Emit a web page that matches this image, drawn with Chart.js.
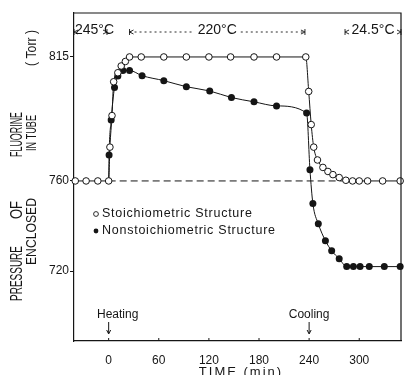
<!DOCTYPE html>
<html>
<head>
<meta charset="utf-8">
<script src="https://cdn.jsdelivr.net/npm/chart.js@4.4.0/dist/chart.umd.min.js"></script>
<style>
  html, body { margin: 0; padding: 0; background: #fff; }
  #wrap { width: 406px; height: 375px; }
</style>
</head>
<body>
<div id="wrap"><canvas id="fluorineChart" width="406" height="375"></canvas></div>
<script>
// Values: time in min, pressure in Torr
const stoichTime = [-40, -27, -13, 0, 1.5, 4, 6, 11, 15, 20, 25, 39, 66, 93, 120, 146, 174, 201, 236,
    239.5, 242.5, 245.5, 250, 256.5, 262.5, 268.5, 276, 284, 292, 300, 310, 328, 349];
const stoichPressure = [760, 760, 760, 760, 775, 789, 804, 808, 811, 813, 815, 815, 815, 815, 815, 815, 815, 815, 815,
    799.7, 785, 775, 769.3, 766, 764.2, 762.8, 761.5, 760.3, 760, 760, 760, 760, 760];

const nonstoichTime = [0, 0.5, 3, 7, 11, 17, 25, 40, 66, 93, 121, 147, 174, 201, 237,
    241, 244.5, 251, 259.5, 267, 276, 285, 293, 301, 312, 330, 349];
const nonstoichPressure = [760, 771.5, 787, 801.5, 806.5, 809, 809, 806.7, 804.5, 801.8, 799.9, 797, 795.1, 793.3, 790.1,
    765, 750, 741, 733.5, 729, 725.5, 722, 722, 722, 722, 722, 722];

// dashed reference at the starting pressure
const refTime = [0, 284];
const refPressure = [760, 760];

const seriesLabels = ['Stoichiometric Structure', 'Nonstoichiometric Structure'];
const xTicks = [0, 60, 120, 180, 240, 300];
const yTicks = [720, 760, 815];

const tempLabels = ['245°C', '220°C', '24.5°C'];
const tempFrom = [-41.5, 25, 283];
const tempTo = [-2, 235, 350];
const eventTimes = [0, 240];
const eventLabels = ['Heating', 'Cooling'];

const FONT = '"Liberation Sans", Arial, sans-serif';
const INK = '#151515';

function toPoints(xs, ys) {
    return xs.map((x, i) => ({ x: x, y: ys[i] }));
}

// rotated text squeezed to fit between y1 and y2
function vText(c, txt, cx, y1, y2, size) {
    c.save();
    c.font = size + 'px ' + FONT;
    const w = c.measureText(txt).width;
    c.translate(cx, (y1 + y2) / 2);
    c.rotate(-Math.PI / 2);
    c.scale((y2 - y1) / w, 1);
    c.textAlign = 'center';
    c.textBaseline = 'middle';
    c.fillText(txt, 0, 0);
    c.restore();
}

function arrowHead(c, x, y, dir) {
    c.beginPath();
    c.moveTo(x - dir * 4, y - 2);
    c.lineTo(x, y);
    c.lineTo(x - dir * 4, y + 2);
    c.stroke();
}

const decorations = {
    id: 'decorations',
    afterDraw(chart) {
        const c = chart.ctx;
        const a = chart.chartArea;
        const xs = chart.scales.x;
        c.save();
        c.strokeStyle = INK;
        c.fillStyle = INK;

        // box top and right
        c.lineWidth = 1.2;
        c.beginPath();
        c.moveTo(a.left, a.top);
        c.lineTo(a.right, a.top);
        c.lineTo(a.right, a.bottom);
        c.stroke();

        // small inward ticks on the time axis
        c.lineWidth = 1;
        xTicks.forEach(v => {
            const px = xs.getPixelForValue(v);
            c.beginPath();
            c.moveTo(px, a.bottom);
            c.lineTo(px, a.bottom - 3);
            c.stroke();
        });

        // temperature bands
        const ty = 32;
        c.font = '14px ' + FONT;
        c.textAlign = 'center';
        c.textBaseline = 'middle';
        tempLabels.forEach((t, i) => {
            const x1 = Math.max(xs.getPixelForValue(tempFrom[i]), a.left);
            const x2 = Math.min(xs.getPixelForValue(tempTo[i]), a.right);
            const mid = (x1 + x2) / 2 + (i === 0 ? 4 : 0);
            const w = c.measureText(t).width;
            c.fillText(t, mid, ty - 2);
            c.lineWidth = 0.9;
            c.setLineDash([2, 3]);
            c.beginPath();
            if (mid - w / 2 - 4 > x1 + 3) {
                c.moveTo(x1, ty);
                c.lineTo(mid - w / 2 - 4, ty);
            }
            if (mid + w / 2 + 4 < x2 - 3) {
                c.moveTo(mid + w / 2 + 4, ty);
                c.lineTo(x2, ty);
            }
            c.stroke();
            c.setLineDash([]);
            [x1, x2].forEach((px, k) => {
                c.beginPath();
                c.moveTo(px, ty - 3);
                c.lineTo(px, ty + 3);
                c.stroke();
                arrowHead(c, px, ty, k === 0 ? -1 : 1);
            });
        });

        // heating / cooling markers
        c.font = '12px ' + FONT;
        eventTimes.forEach((t, i) => {
            const px = xs.getPixelForValue(t);
            c.fillText(eventLabels[i], px + (i === 0 ? 9 : 0), 315);
            c.lineWidth = 1;
            c.beginPath();
            c.moveTo(px, 322);
            c.lineTo(px, 333);
            c.stroke();
            c.beginPath();
            c.moveTo(px - 2, 330);
            c.lineTo(px, 334);
            c.lineTo(px + 2, 330);
            c.stroke();
        });

        // legend
        c.textAlign = 'left';
        c.font = '12.5px ' + FONT;
        c.letterSpacing = '0.75px';
        [214, 231].forEach((ly, i) => {
            c.beginPath();
            c.arc(96, ly, 2.4, 0, Math.PI * 2);
            if (i === 0) {
                c.fillStyle = '#fff';
                c.fill();
                c.lineWidth = 0.9;
                c.stroke();
            } else {
                c.fillStyle = INK;
                c.fill();
            }
            c.fillStyle = INK;
            c.fillText(seriesLabels[i], 102, ly);
        });
        c.letterSpacing = '0px';

        // axis titles
        vText(c, 'PRESSURE', 17.5, 246, 301, 17);
        vText(c, 'OF', 17.5, 201, 219, 17);
        vText(c, 'FLUORINE', 17.5, 112, 157, 17);
        vText(c, 'ENCLOSED', 31.5, 198, 265, 15);
        vText(c, 'IN TUBE', 31.5, 115, 151, 15);
        vText(c, '( Torr )', 31.5, 30, 66, 15);

        c.textAlign = 'center';
        c.textBaseline = 'top';
        c.font = '13px ' + FONT;
        c.letterSpacing = '2px';
        c.fillText('TIME (min)', 241, 366);
        c.restore();
    }
};

const fluorineChart = new Chart(document.getElementById('fluorineChart').getContext('2d'), {
    type: 'line',
    data: {
        datasets: [{
            label: seriesLabels[0],
            data: toPoints(stoichTime, stoichPressure),
            borderColor: INK,
            borderWidth: 1,
            pointRadius: 3.3,
            pointBorderWidth: 1,
            pointBackgroundColor: '#fff',
            pointBorderColor: INK,
            cubicInterpolationMode: 'monotone',
            clip: false
        }, {
            label: seriesLabels[1],
            data: toPoints(nonstoichTime, nonstoichPressure),
            borderColor: INK,
            borderWidth: 1,
            pointRadius: [0].concat(Array(nonstoichTime.length - 1).fill(3.5)),
            pointBorderWidth: 0,
            pointBackgroundColor: INK,
            cubicInterpolationMode: 'monotone',
            clip: false
        }, {
            label: 'ref',
            data: toPoints(refTime, refPressure),
            borderColor: INK,
            borderWidth: 1,
            borderDash: [7, 4],
            pointRadius: 0
        }]
    },
    options: {
        responsive: false,
        animation: false,
        layout: { padding: { top: 13, right: 2, bottom: 0, left: 0 } },
        plugins: {
            legend: { display: false },
            tooltip: { enabled: false }
        },
        scales: {
            x: {
                type: 'linear',
                min: -41.5,
                max: 350,
                afterFit: s => { s.height = 34; },
                afterBuildTicks: s => { s.ticks = xTicks.map(v => ({ value: v })); },
                grid: { display: false },
                border: { display: true, color: INK, width: 1.2 },
                ticks: {
                    color: INK,
                    padding: 4,
                    maxRotation: 0,
                    font: { family: FONT, size: 12 }
                }
            },
            y: {
                min: 689,
                max: 834.5,
                afterFit: s => { s.width = 74; },
                afterBuildTicks: s => { s.ticks = yTicks.map(v => ({ value: v })); },
                grid: { drawOnChartArea: false, tickLength: 4, color: INK },
                border: { display: true, color: INK, width: 1.2 },
                ticks: {
                    color: INK,
                    padding: 1,
                    font: { family: FONT, size: 12 }
                }
            }
        }
    },
    plugins: [decorations]
});
</script>
</body>
</html>
